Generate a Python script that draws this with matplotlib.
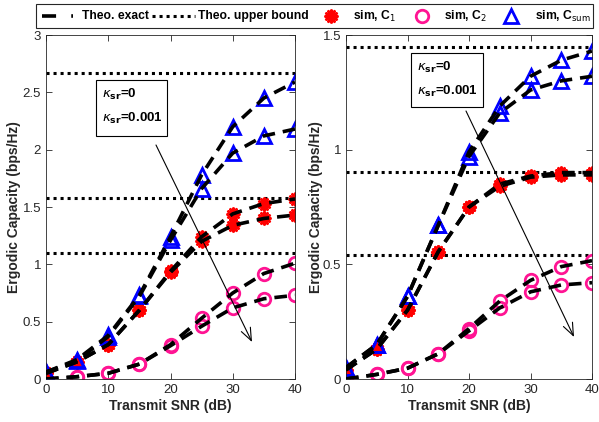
import numpy as np
import matplotlib
matplotlib.use("Agg")
import matplotlib.pyplot as plt
from matplotlib.lines import Line2D
from matplotlib.patches import Rectangle, FancyArrowPatch

plt.rcParams['font.family'] = ['Liberation Sans', 'DejaVu Sans']

snr = [0, 5, 10, 15, 20, 25, 30, 35, 40]

# Left panel
L_csum_k0 = [0.06, 0.17, 0.38, 0.73, 1.24, 1.78, 2.20, 2.45, 2.59]
L_csum_k1 = [0.06, 0.16, 0.37, 0.72, 1.21, 1.66, 1.97, 2.12, 2.18]
L_c1_k0 = [0.05, 0.15, 0.30, 0.60, 0.94, 1.24, 1.44, 1.53, 1.57]
L_c1_k1 = [0.05, 0.15, 0.30, 0.60, 0.93, 1.20, 1.34, 1.40, 1.43]
L_c2_k0 = [0.00, 0.02, 0.05, 0.13, 0.30, 0.53, 0.75, 0.92, 1.01]
L_c2_k1 = [0.00, 0.02, 0.05, 0.13, 0.29, 0.46, 0.62, 0.70, 0.73]
L_bounds = [2.67, 1.58, 1.10]

# Right panel
R_csum_k0 = [0.05, 0.15, 0.36, 0.67, 0.99, 1.19, 1.32, 1.39, 1.43]
R_csum_k1 = [0.05, 0.15, 0.36, 0.67, 0.97, 1.16, 1.26, 1.30, 1.32]
R_c1_k0 = [0.04, 0.13, 0.30, 0.555, 0.75, 0.85, 0.885, 0.90, 0.90]
R_c1_k1 = [0.04, 0.13, 0.30, 0.555, 0.75, 0.84, 0.88, 0.89, 0.89]
R_c2_k0 = [0.00, 0.02, 0.047, 0.11, 0.22, 0.34, 0.43, 0.49, 0.516]
R_c2_k1 = [0.00, 0.02, 0.047, 0.11, 0.21, 0.31, 0.38, 0.41, 0.42]
R_bounds = [1.447, 0.904, 0.54]

legend_labels = ['Theo. exact', 'Theo. upper bound', r'sim, C$_1$', r'sim, C$_2$', r'sim, C$_{\mathrm{sum}}$']

W, H = 599, 422
fig = plt.figure(figsize=(W/100, H/100), dpi=100)

def ax_rect(x0, x1, y0, y1):
    return [x0/W, 1 - y1/H, (x1-x0)/W, (y1-y0)/H]

axL = fig.add_axes(ax_rect(46, 295, 35, 379))
axR = fig.add_axes(ax_rect(346, 592, 35, 379))

red = '#FF0000'
pink = '#FF1493'
blue = '#0000FF'
star = (12, 1, 0)
dash = (0, (3.5, 2.2))
dot = (0, (1, 1.3))

def draw(ax, csum0, csum1, c10, c11, c20, c21, bounds, ymax, yticks, ylabels, lpad):
    for b in bounds:
        ax.axhline(b, color='black', ls=dot, lw=2.2, zorder=1)
    for yv in (c20, c21):
        ax.plot(snr, yv, ls='none', marker='o', ms=9, mfc='none', mec=pink, mew=2, zorder=2)
    for yv in (c10, c11):
        ax.plot(snr, yv, ls='none', marker=star, ms=10, mfc=red, mec=red, mew=1.5, zorder=2)
    for yv in (csum0, csum1):
        ax.plot(snr, yv, ls='none', marker='^', ms=10, mfc='none', mec=blue, mew=2, zorder=2)
    for yv in (csum0, csum1, c10, c11, c20, c21):
        ax.plot(snr, yv, color='black', ls=dash, lw=2.6, zorder=3)
    ax.set_xlim(0, 40)
    ax.set_ylim(0, ymax)
    ax.set_xticks([0, 10, 20, 30, 40])
    ax.set_yticks(yticks)
    ax.set_yticklabels(ylabels)
    ax.tick_params(direction='in', top=True, right=True, labelsize=9.5, colors='#262626', length=4, width=0.6)
    for s in ax.spines.values():
        s.set_linewidth(0.6)
        s.set_color('#262626')
    ax.set_xlabel('Transmit SNR (dB)', fontsize=10, fontweight='bold', color='#262626', labelpad=2)
    ax.set_ylabel('Ergodic Capacity (bps/Hz)', fontsize=10, fontweight='bold', color='#262626', labelpad=lpad)

draw(axL, L_csum_k0, L_csum_k1, L_c1_k0, L_c1_k1, L_c2_k0, L_c2_k1, L_bounds, 3,
     [0, 0.5, 1, 1.5, 2, 2.5, 3], ['0', '0.5', '1', '1.5', '2', '2.5', '3'], 1.5)
draw(axR, R_csum_k0, R_csum_k1, R_c1_k0, R_c1_k1, R_c2_k0, R_c2_k1, R_bounds, 1.5,
     [0, 0.5, 1, 1.5], ['0', '0.5', '1', '1.5'], -0.5)

def px(x, y):
    return (x/W, 1 - y/H)

def annot(x0, x1, y0, y1, ax0, ay0, ax1, ay1):
    r = Rectangle(px(x0, y1), (x1-x0)/W, (y1-y0)/H, transform=fig.transFigure,
                  facecolor='white', edgecolor='black', lw=0.8, zorder=5)
    fig.add_artist(r)
    fig.text((x0+6)/W, 1-(y0+14)/H, r'$\kappa_{\mathbf{sr}}$=0', fontsize=9.5, fontweight='bold',
             va='center', ha='left', zorder=6)
    fig.text((x0+6)/W, 1-(y0+38)/H, r'$\kappa_{\mathbf{sr}}$=0.001', fontsize=9.5, fontweight='bold',
             va='center', ha='left', zorder=6)
    fig.add_artist(FancyArrowPatch(px(ax0, ay0), px(ax1, ay1),
                   transform=fig.transFigure, arrowstyle='->,head_length=1.0,head_width=0.4',
                   lw=0.8, color='black', mutation_scale=9, shrinkA=0, shrinkB=0, zorder=6))

annot(96, 167, 80, 136, 156, 145, 252, 342)
annot(411, 483, 53, 107, 466, 111, 574, 337)

# Legend box (manual layout)
fig.add_artist(Rectangle(px(36, 28), (593-36)/W, 24/H, transform=fig.transFigure,
                         facecolor='white', edgecolor='#262626', lw=0.8, zorder=5))
ly = 1 - 16/H
fig.add_artist(Line2D([42/W, 73/W], [ly, ly], transform=fig.transFigure, color='black',
                      ls=(0, (3.9, 4.2)), lw=2.6, dash_capstyle='butt', zorder=6))
fig.add_artist(Line2D([152/W, 195/W], [ly, ly], transform=fig.transFigure, color='black',
                      ls=dot, lw=2.2, zorder=6))
fig.add_artist(Line2D([331/W], [ly], transform=fig.transFigure, ls='none', marker=star, ms=10,
                      mfc=red, mec=red, mew=1.5, zorder=6))
fig.add_artist(Line2D([422/W], [ly], transform=fig.transFigure, ls='none', marker='o', ms=9,
                      mfc='none', mec=pink, mew=2, zorder=6))
fig.add_artist(Line2D([511/W], [ly], transform=fig.transFigure, ls='none', marker='^', ms=10,
                      mfc='none', mec=blue, mew=2, zorder=6))
for xpos, lab in zip([82, 198, 353, 444, 535], legend_labels):
    fig.text(xpos/W, ly, lab, fontsize=8.7, fontweight='bold', va='center', ha='left', zorder=6)

fig.savefig('out.png', dpi=100)
